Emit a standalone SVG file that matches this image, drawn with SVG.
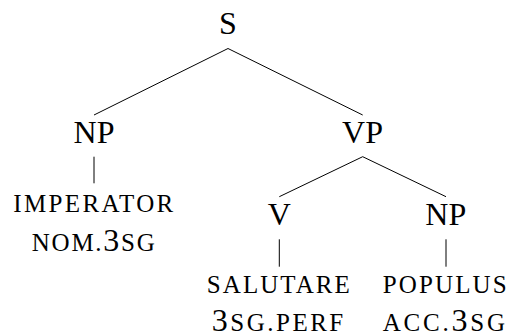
<svg xmlns="http://www.w3.org/2000/svg" width="508" height="336" viewBox="0 0 508 336">
<style>
text{font-family:'Liberation Serif',serif;fill:#000;text-anchor:middle}
.cat{font-size:32px}
.sc{font-size:25px}
.d{font-size:32px}
.e{stroke:#000;stroke-width:1;fill:none}
</style>
<rect width="508" height="336" fill="#fff"/>
<g id="connectors">
<line class="e" x1="228" y1="48.5" x2="94" y2="115"/>
<line class="e" x1="228" y1="48.5" x2="362.7" y2="115"/>
<line class="e" x1="94" y1="156.7" x2="94" y2="183.3"/>
<line class="e" x1="362.7" y1="156.7" x2="279.3" y2="196.7"/>
<line class="e" x1="362.7" y1="156.7" x2="446" y2="196.7"/>
<line class="e" x1="279.3" y1="239.3" x2="279.3" y2="266.7"/>
<line class="e" x1="446" y1="239.3" x2="446" y2="266.7"/>
</g>
<g id="S"><text class="cat" x="228" y="34.3">S</text></g>
<g id="NP1"><text class="cat" x="94" y="143.3">NP</text></g>
<g id="VP"><text class="cat" x="362.5" y="143.3">VP</text></g>
<g id="imperator">
<text class="sc" x="93.3" y="211.7" textLength="160" lengthAdjust="spacing">IMPERATOR</text>
<text class="sc" x="93.3" y="251" textLength="123" lengthAdjust="spacing">NOM.<tspan class="d">3</tspan>SG</text>
</g>
<g id="V"><text class="cat" x="279.3" y="225">V</text></g>
<g id="NP2"><text class="cat" x="445.8" y="225">NP</text></g>
<g id="salutare">
<text class="sc" x="278.3" y="293.3" textLength="143" lengthAdjust="spacing">SALUTARE</text>
<text class="sc" x="277.5" y="330.5" textLength="131.5" lengthAdjust="spacing"><tspan class="d">3</tspan>SG.PERF</text>
</g>
<g id="populus">
<text class="sc" x="444.7" y="293.3" textLength="124" lengthAdjust="spacing">POPULUS</text>
<text class="sc" x="443.8" y="330.5" textLength="122.3" lengthAdjust="spacing">ACC.<tspan class="d">3</tspan>SG</text>
</g>
</svg>
